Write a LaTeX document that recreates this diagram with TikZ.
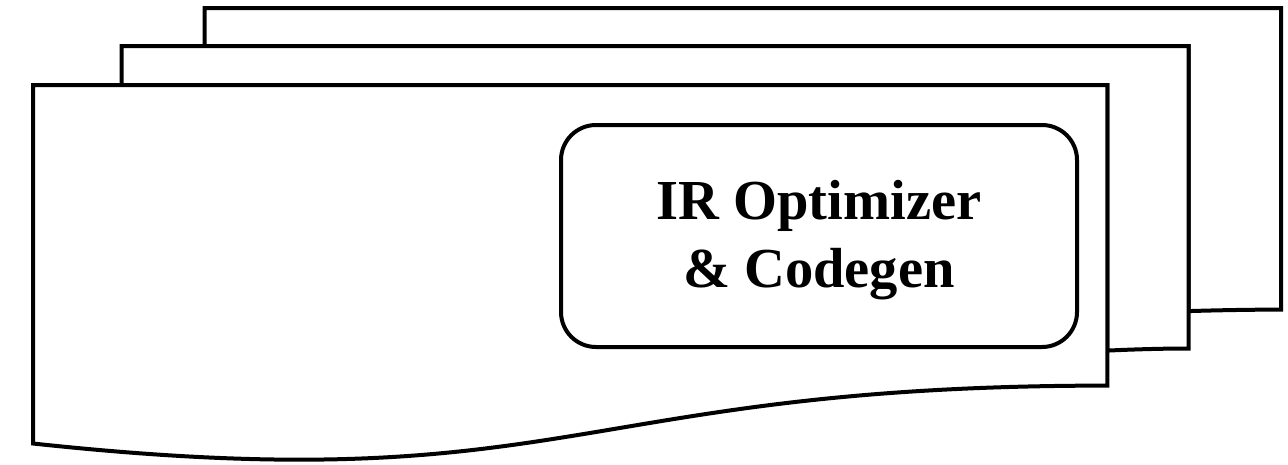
\documentclass[tikz,border=0pt]{standalone}
\usepackage{fontspec}
\setmainfont{Liberation Serif}
\begin{document}
\begin{tikzpicture}[x=1pt,y=-1pt,
  sheet/.style={draw=black,fill=white,line width=4pt,line join=miter},
  stage/.style={draw=black,fill=white,line width=4pt,rounded corners=35pt,
    minimum width=516pt,minimum height=222pt,inner sep=0pt},
  stagetext/.style={align=center,inner sep=0pt,
    font=\bfseries\fontsize{56.5}{68}\selectfont}]
\useasboundingbox (0,0) rectangle (1288,464);
% back sheet of the stack
\path[sheet] (204.7,46) -- (204.7,8) -- (1281,8) -- (1281,309.6)
  .. controls (1234.8,309.6) and (1188.6,311.1) .. (1188.6,311.1)
  -- (1188.6,46) -- cycle;
% middle sheet
\path[sheet] (121.5,85) -- (121.5,46) -- (1188.6,46) -- (1188.6,348.5)
  .. controls (1148,348.5) and (1107.4,350.6) .. (1107.4,350.6)
  -- (1107.4,85) -- cycle;
% front sheet with the wavy lower edge
\path[sheet] (33,443.5) .. controls (570.2,501.3) and (570.2,385.6) .. (1107.4,385.6)
  -- (1107.4,85) -- (33,85) -- cycle;
% the stage box and its caption
\node[stage] (opt) at (819,236) {};
\node[stagetext] (optlabel) at (819,240) {IR Optimizer\\\& Codegen};
\end{tikzpicture}
\end{document}
